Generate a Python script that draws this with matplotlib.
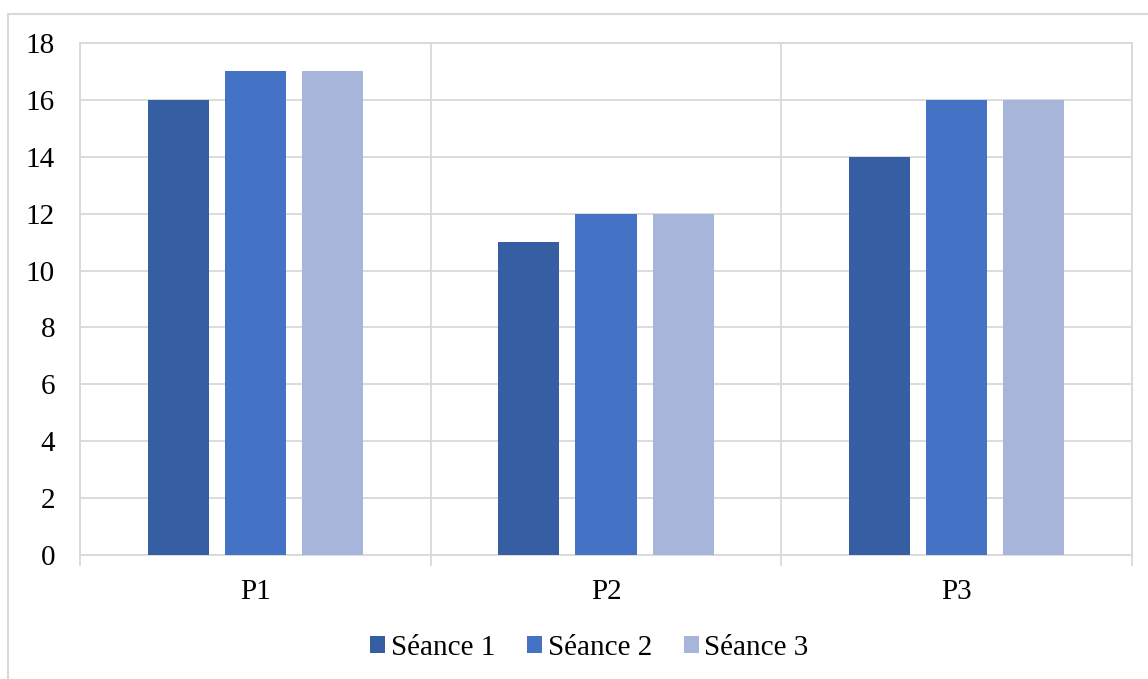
import matplotlib.pyplot as plt
import matplotlib.patches as mpatches
import numpy as np

# données
categories = ['P1', 'P2', 'P3']
seance_1 = [16, 11, 14]
seance_2 = [17, 12, 16]
seance_3 = [17, 12, 16]
series_names = ['Séance 1', 'Séance 2', 'Séance 3']
y_ticks = [0, 2, 4, 6, 8, 10, 12, 14, 16, 18]

colors = ['#365EA3', '#4472C4', '#A8B5DA']
grid_col = '#D9D9D9'

plt.rcParams['font.family'] = ['Liberation Serif', 'DejaVu Serif']

fig = plt.figure(figsize=(11.48, 6.79), dpi=100)
ax = fig.add_axes([80 / 1148, 1 - 555 / 679, (1132 - 80) / 1148, (555 - 43) / 679])

x = np.arange(len(categories))
width = 0.174
offsets = [-0.22, 0, 0.22]
for vals, off, col, name in zip([seance_1, seance_2, seance_3], offsets, colors, series_names):
    ax.bar(x + off, vals, width, color=col, label=name, zorder=3)

ax.set_xlim(-0.5, 2.5)
ax.set_ylim(0, 18)
ax.set_yticks(y_ticks)
ax.set_xticks(x)
ax.set_xticklabels(categories)
ax.set_xticks([-0.5, 0.5, 1.5, 2.5], minor=True)

ax.tick_params(axis='y', length=0, pad=18, labelsize=21)
ax.tick_params(axis='x', which='major', length=0, pad=17, labelsize=21)
ax.tick_params(axis='x', which='minor', length=8, width=1.3, color=grid_col)

ax.grid(axis='y', color=grid_col, linewidth=1.3, zorder=0)
ax.grid(axis='x', which='minor', color=grid_col, linewidth=1.3, zorder=0)
for s in ax.spines.values():
    s.set_color(grid_col)
    s.set_linewidth(1.3)

# cadre extérieur du graphique
fig.patches.append(mpatches.Rectangle((8 / 1148, -0.1), 1.2, 1 - 14 / 679 + 0.1,
                                      transform=fig.transFigure, fill=False,
                                      edgecolor=grid_col, linewidth=1.5))

ax.legend(loc='center', bbox_to_anchor=(589.5 / 1148, 1 - 648 / 679), bbox_transform=fig.transFigure,
          ncol=3, frameon=False, fontsize=21, handlelength=0.5, handleheight=0.5,
          handletextpad=0.2, columnspacing=1.1)

fig.savefig('out.png', dpi=100)
